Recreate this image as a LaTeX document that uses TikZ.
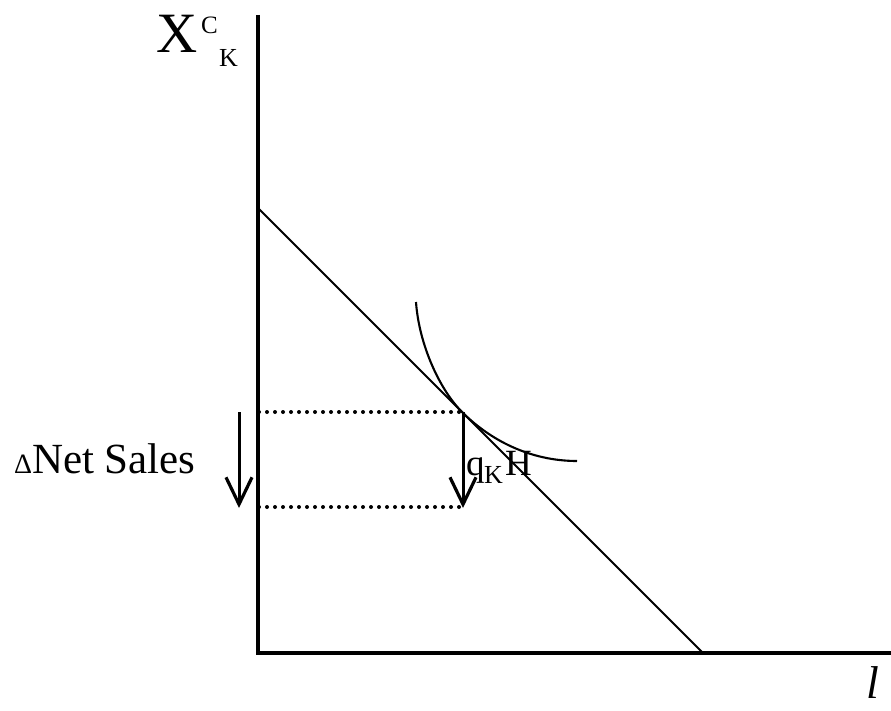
\documentclass[tikz,border=0pt]{standalone}
\usepackage{fontspec}
\setmainfont{Liberation Serif}
\usetikzlibrary{arrows.meta}
\begin{document}
\begin{tikzpicture}[x=1pt,y=-1pt,
  axis/.style={line width=3.8pt},
  thin/.style={line width=2.1pt},
  dots/.style={line width=4pt, line cap=round, dash pattern=on 0pt off 8pt},
  downarrow/.style={line width=3pt, -{Straight Barb[length=27pt,width=26pt,line width=3.2pt]}},
  lbl/.style={anchor=base west, inner sep=0pt, outer sep=0pt}]
\useasboundingbox (0,0) rectangle (891,711);
% axes
\coordinate (ytop) at (258,15);
\coordinate (orig) at (258,653);
\coordinate (xend) at (895,653);
\draw[axis] (ytop) -- (orig) -- (xend);
% budget line
\coordinate (bl1) at (258,208);
\coordinate (bl2) at (703,653);
\draw[thin] (bl1) -- (bl2);
% tangent point and projections
\coordinate (T) at (462,412);
\coordinate (A1) at (259,412);
\coordinate (A2) at (259,507);
\coordinate (B2) at (462,507);
\draw[dots] (A1) -- (T);
\draw[dots] (A2) -- (B2);
% indifference curve
\coordinate (c0) at (416,302);
\coordinate (c2) at (577,461);
\draw[thin] (c0) .. controls (419,345) and (440,390) .. (T)
            .. controls (490,440) and (530,461) .. (c2);
% arrows
\coordinate (la1) at (239,412);
\coordinate (la2) at (239,508);
\coordinate (ra1) at (463,412);
\coordinate (ra2) at (463,508);
\draw[downarrow] (la1) -- (la2);
\draw[downarrow] (ra1) -- (ra2);
% labels
\node[lbl, font=\fontsize{57}{57}\selectfont] (X) at (156,53) {X};
\node[lbl, font=\fontsize{25}{25}\selectfont] (C) at (201,34) {C};
\node[lbl, font=\fontsize{26}{26}\selectfont] (K) at (219,67) {K};
\node[lbl] (ns) at (14,473) {{\fontsize{28}{28}\selectfont Δ}{\fontsize{43}{43}\selectfont Net Sales}};
\node[lbl, font=\fontsize{37}{37}\selectfont] (q) at (466,475) {q};
\node[lbl, font=\fontsize{26}{26}\selectfont] (qk) at (484,483) {K};
\node[lbl, font=\fontsize{37}{37}\selectfont] (H) at (505,475) {H};
\node[lbl, font=\fontsize{46}{46}\selectfont\itshape] (l) at (866,698) {l};
\end{tikzpicture}
\end{document}
